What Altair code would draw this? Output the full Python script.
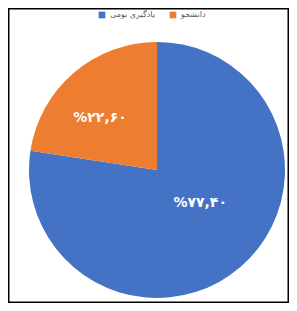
import altair as alt
import pandas as pd

categories = ["یادگیری بومی", "دانشجو"]
values = [77.4, 22.6]
labels = ["%۷۷,۴۰", "%۲۲,۶۰"]
colors = ["#4472C4", "#ED7D31"]

df = pd.DataFrame({"cat": categories, "val": values, "label": labels, "order": [0, 1]})

cx, cy = 149, 162


def base():
    return alt.Chart(df).encode(
        theta=alt.Theta("val:Q", stack=True),
        order=alt.Order("order:Q"),
    )


pie = base().mark_arc(radius=128).encode(
    x=alt.value(cx), y=alt.value(cy),
    color=alt.Color(
        "cat:N",
        scale=alt.Scale(domain=categories, range=colors),
        sort=categories,
        legend=alt.Legend(
            title=None, orient="none", direction="horizontal",
            legendX=90, legendY=3, symbolType="square", symbolSize=45,
            symbolStrokeWidth=0, labelFontSize=8, labelColor="#595959",
            columnPadding=14, labelFont="DejaVu Sans",
        ),
    ),
)

txt_blue = base().mark_text(radius=54, dx=8, dy=-8, color="white", fontSize=14,
                            fontWeight="bold", font="DejaVu Sans").encode(
    x=alt.value(cx), y=alt.value(cy),
    text=alt.condition(alt.datum.order == 0, "label:N", alt.value("")),
)

txt_orange = base().mark_text(radius=72, dx=-10, dy=3, color="white", fontSize=14,
                              fontWeight="bold", font="DejaVu Sans").encode(
    x=alt.value(cx), y=alt.value(cy),
    text=alt.condition(alt.datum.order == 1, "label:N", alt.value("")),
)

chart = alt.layer(pie, txt_blue, txt_orange).properties(
    width=281, height=295,
    autosize=alt.AutoSizeParams(type="fit", contains="padding"),
    padding=0,
).configure_view(stroke="black", strokeWidth=3)

chart.save("out.html", embed_options={"renderer": "svg", "actions": False})
